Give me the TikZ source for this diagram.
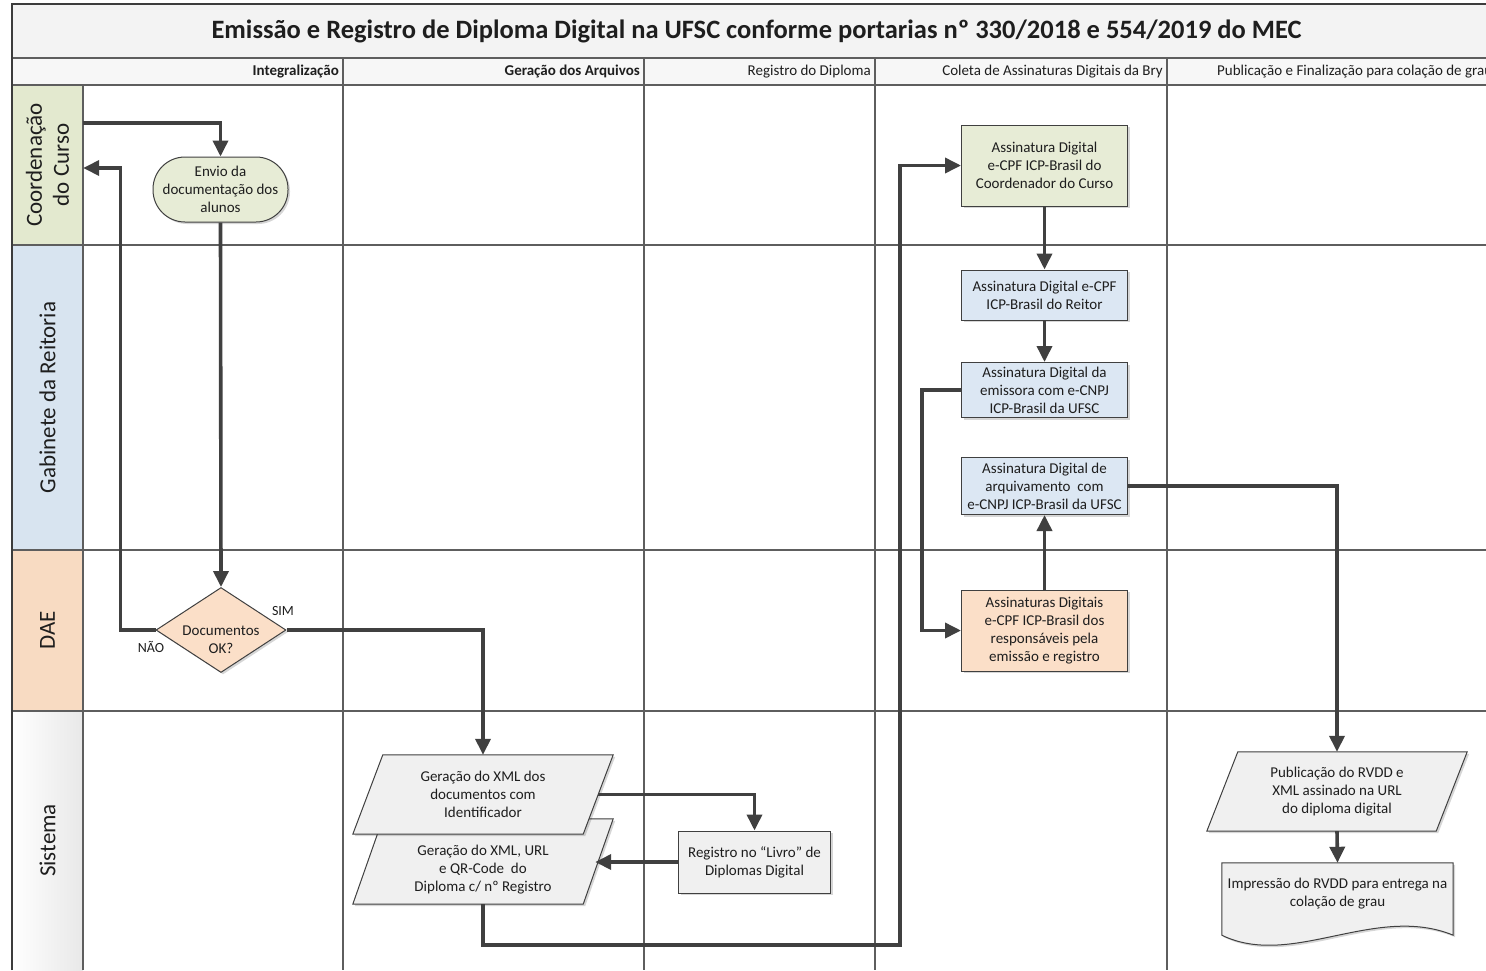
\documentclass[tikz,border=0pt]{standalone}
\usepackage{fontspec}
\setmainfont{Carlito}
\usetikzlibrary{arrows.meta,shapes.geometric,calc,shadows}
\pgfdeclarelayer{bg}
\pgfsetlayers{bg,main}
\definecolor{arrowc}{HTML}{404040}
\definecolor{gridc}{HTML}{5E5E5E}
\definecolor{framec}{HTML}{3C3C3C}
\definecolor{txtc}{HTML}{1E1E1E}
\definecolor{greenf}{HTML}{E7ECD6}
\definecolor{greenl}{HTML}{E3E9CF}
\definecolor{bluef}{HTML}{DCE7F3}
\definecolor{bluel}{HTML}{D8E4F0}
\definecolor{peachf}{HTML}{FBDFC8}
\definecolor{peachl}{HTML}{F8DBC2}
\definecolor{grayf}{HTML}{F0F0F0}
\definecolor{bandf}{HTML}{F3F3F3}
\newcommand{\bodyf}{\fontsize{15}{18}\selectfont}
\newcommand{\lanef}{\fontsize{23}{27}\selectfont}
\newcommand{\paraback}[2]{\draw[parashape] ($(#1.south west)+(-#2,0)$) -- ($(#1.north west)+(#2,0)$) -- ($(#1.north east)+(#2,0)$) -- ($(#1.south east)+(-#2,0)$) -- cycle;}
\begin{document}
\begin{tikzpicture}[x=1pt,y=-1pt,
  every node/.style={text=txtc},
  softshadow/.style={drop shadow={shadow xshift=2pt,shadow yshift=-2pt,opacity=0.16,fill=black}},
  procbox/.style={rectangle, draw=arrowc, line width=1pt, inner sep=2pt, align=center, font=\bodyf, minimum width=166, softshadow},
  paranode/.style={rectangle, inner sep=0pt, align=center, font=\bodyf, minimum width=230},
  parashape/.style={draw=arrowc, line width=1pt, fill=grayf, softshadow},
  gridline/.style={draw=gridc, line width=1.2pt},
  frameline/.style={draw=framec, line width=1.5pt},
  lanebox/.style={rectangle, inner sep=0pt, minimum width=71},
  lanetext/.style={rotate=90, align=center, font=\lanef},
  headtext/.style={anchor=east, inner sep=0pt, font=\bodyf},
  branchlab/.style={inner sep=0pt, font=\fontsize{14}{16}\selectfont},
  flow/.style={draw=arrowc, line width=3.6pt, -{Triangle[length=16pt,width=15pt]}}
]
\useasboundingbox (0,0) rectangle (1486,970);
\begin{pgfonlayer}{bg}
\fill[white] (0,0) rectangle (1486,970);
\end{pgfonlayer}

% ---------- title band and header row ----------
\fill[bandf] (12,4) rectangle (1486,58);
\fill[bandf!70!white] (12,58) rectangle (1486,85);
\node[font=\fontsize{26.5}{30}\selectfont\bfseries] (title) at (756.5,31) {Emissão e Registro de Diploma Digital na UFSC conforme portarias nº 330/2018 e 554/2019 do MEC};

% ---------- lane label column ----------
\node[lanebox, fill=greenl, minimum height=160] (lcoord) at (47.5,165) {};
\node[lanebox, fill=bluel, minimum height=305] (lgab) at (47.5,397.5) {};
\node[lanebox, fill=peachl, minimum height=161] (ldae) at (47.5,630.5) {};
\node[lanebox, left color=white, right color=black!9, minimum height=259] (lsis) at (47.5,840.5) {};
\node[lanetext] (tcoord) at (lcoord.center) {Coordenação\\do Curso};
\node[lanetext] (tgab) at (lgab.center) {Gabinete da Reitoria};
\node[lanetext] (tdae) at (ldae.center) {DAE};
\node[lanetext] (tsis) at (lsis.center) {Sistema};

% ---------- grid ----------
\draw[gridline] (12,58) -- (1486,58);
\draw[gridline] (12,85) -- (1486,85);
\draw[gridline] (12,245) -- (1486,245);
\draw[gridline] (12,550) -- (1486,550);
\draw[gridline] (12,711) -- (1486,711);
\draw[gridline] (83,85) -- (83,970);
\draw[gridline] (343,58) -- (343,970);
\draw[gridline] (644,58) -- (644,970);
\draw[gridline] (875,58) -- (875,970);
\draw[gridline] (1167,58) -- (1167,970);
\draw[frameline] (12,970) -- (12,4) -- (1486,4);

% ---------- column headers ----------
\node[headtext, font=\bodyf\bfseries] (h1) at (339,71.5) {Integralização};
\node[headtext, font=\bodyf\bfseries] (h2) at (640,71.5) {Geração dos Arquivos};
\node[headtext] (h3) at (871,71.5) {Registro do Diploma};
\node[headtext] (h4) at (1163,71.5) {Coleta de Assinaturas Digitais da Bry};
\begin{scope}
\clip (1168,59) rectangle (1486,84);
\node[headtext, anchor=west] (h5) at (1217,71.5) {Publicação e Finalização para colação de grau};
\end{scope}

% ---------- flow nodes ----------
\node[rectangle, rounded corners=32pt, draw=arrowc, line width=1pt, fill=greenf, minimum width=135, minimum height=65, inner sep=0pt, align=center, font=\bodyf, softshadow] (envio) at (220.5,189.5) {Envio da\\documentação dos\\alunos};
\node[diamond, draw=arrowc, line width=1pt, fill=peachf, minimum width=130, minimum height=85, aspect=1.53, inner sep=0pt, font=\bodyf, softshadow] (dec) at (221,630) {\raisebox{-14pt}[0pt][0pt]{\begin{tabular}{@{}c@{}}Documentos\\OK?\end{tabular}}};
\node[branchlab] (sim) at (283,611) {SIM};
\node[branchlab] (nao) at (151,647) {NÃO};

\node[paranode, minimum height=69] (p2) at (483,869.5) {Geração do XML, URL\\e QR-Code\ \ do\\Diploma c/ nº Registro};
\node[paranode, minimum height=79] (p1) at (483,794.5) {Geração do XML dos\\documentos com\\Identificador};
\node[procbox, fill=grayf, minimum width=152, minimum height=62] (reg) at (754.5,862) {Registro no “Livro” de\\Diplomas Digital};

\node[procbox, fill=greenf, minimum height=81] (acoord) at (1044.5,165.5) {Assinatura Digital\\e-CPF ICP-Brasil do\\Coordenador do Curso};
\node[procbox, fill=bluef, minimum height=50] (reitor) at (1044.5,295) {Assinatura Digital e-CPF\\ICP-Brasil do Reitor};
\node[procbox, fill=bluef, minimum height=55] (emis) at (1044.5,390) {Assinatura Digital da\\emissora com e-CNPJ\\ICP-Brasil da UFSC};
\node[procbox, fill=bluef, minimum height=57] (arq) at (1044.5,486) {Assinatura Digital de\\arquivamento\ \ com\\e-CNPJ ICP-Brasil da UFSC};
\node[procbox, fill=peachf, minimum height=81] (asdig) at (1044.5,630.5) {Assinaturas Digitais\\e-CPF ICP-Brasil dos\\responsáveis pela\\emissão e registro};

\node[paranode, minimum width=229, minimum height=79] (pub) at (1337,791.5) {Publicação do RVDD e\\XML assinado na URL\\do diploma digital};
\node[rectangle, inner sep=0pt, minimum width=231, minimum height=62, align=center, font=\bodyf] (imp) at (1337.5,894) {Impressão do RVDD para entrega na\\colação de grau};

% ---------- shapes drawn behind their texts ----------
\begin{pgfonlayer}{bg}
\draw[parashape] ($(p2.south west)+(-15,0)$) -- ($(p2.north west)+(15,-16)$) -- ($(p2.north east)+(15,-16)$) -- ($(p2.south east)+(-15,0)$) -- cycle;
\paraback{p1}{15}
\paraback{pub}{15.5}
\draw[parashape] (imp.north west) -- (imp.north east) -- ($(imp.south east)+(0,10)$) .. controls ($(imp.south east)+(-78,-22)$) and ($(imp.south west)+(70,44)$) .. ($(imp.south west)+(0,10)$) -- cycle;
\end{pgfonlayer}

% ---------- connectors ----------
\draw[flow] ([yshift=42pt]lcoord.east) -| (envio.north);
\draw[flow] (envio.south) -- (dec.north);
\draw[flow] (dec.west) -- ++(-35,0) |- ([yshift=-3pt]lcoord.east);
\draw[flow] (dec.east) -| (p1.north);
\draw[flow] (p1.east) -| (reg.north);
\draw[flow] (reg.west) -- ([xshift=-3pt]reg.west -| p2.east);
\draw[flow] (p2.south) -- ++(0,41) -| ([xshift=-61pt]acoord.west) -- (acoord.west);
\draw[flow] (acoord.south) -- (reitor.north);
\draw[flow] (reitor.south) -- (emis.north);
\draw[flow] (emis.west) -- ++(-39,0) |- (asdig.west);
\draw[flow] (asdig.north) -- (arq.south);
\draw[flow] (arq.east) -| (pub.north);
\draw[flow] (pub.south) -- (imp.north);
\end{tikzpicture}
\end{document}
